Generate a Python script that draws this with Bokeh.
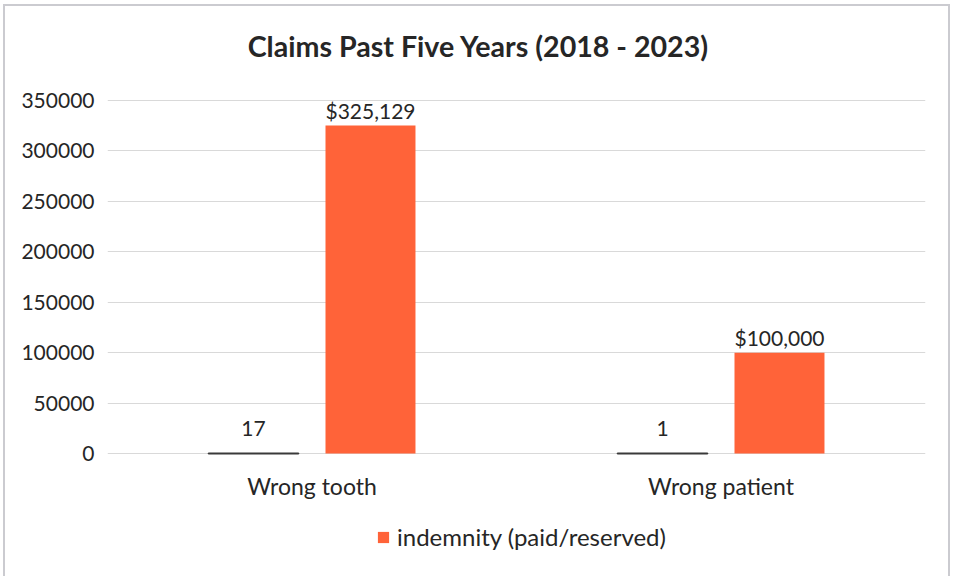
from bokeh.plotting import figure
from bokeh.models import (ColumnDataSource, FactorRange, Range1d, FixedTicker,
                          BasicTickFormatter, LabelSet, Label, Legend, LegendItem)
from bokeh.core.properties import value
from bokeh.transform import dodge
from bokeh.embed import file_html
from bokeh.resources import INLINE

title_text = "Claims Past Five Years (2018 - 2023)"
categories = ["Wrong tooth", "Wrong patient"]
claim_counts = [17, 1]
indemnity = [325129, 100000]
y_ticks = [0, 50000, 100000, 150000, 200000, 250000, 300000, 350000]
indemnity_labels = ["${:,}".format(v) for v in indemnity]
count_labels = [str(v) for v in claim_counts]
zeros = [0 for _ in categories]

FONT = "Lato"
TEXT = "#262626"
ORANGE = "#FF6339"

# layout (canvas pixels)
W, H = 947, 572
LEFT, RIGHT, TOP, BOTTOM = 102, 27, 10, 10
TICK_TOP_PX = 94          # canvas y of the top gridline
ZERO_PX = 447             # canvas y of the zero line
TITLE_PX = (473, 39)      # canvas centre of the title
px_per_unit = (ZERO_PX - TICK_TOP_PX) / y_ticks[-1]
y_min = -(H - BOTTOM - ZERO_PX) / px_per_unit
y_max = (ZERO_PX - TOP) / px_per_unit
cat_px = (W - RIGHT - LEFT) / len(categories)

src = ColumnDataSource(dict(cat=categories, cnt=claim_counts, ind=indemnity,
                            ind_lbl=indemnity_labels, cnt_lbl=count_labels, zero=zeros))

p = figure(x_range=FactorRange(*categories), y_range=Range1d(y_min, y_max),
           width=W, height=H, output_backend="svg", toolbar_location=None,
           x_axis_location=None,
           min_border_left=LEFT, min_border_right=RIGHT, min_border_top=TOP, min_border_bottom=BOTTOM)
p.styles = {"border-left": "2px solid #cbcbd0", "border-right": "2px solid #cbcbd0",
            "border-top": "2px solid #cbcbd0", "margin-left": "3px", "margin-top": "4px"}
p.outline_line_color = None

p.add_layout(Label(x=(TITLE_PX[0] - LEFT) / cat_px, y=(ZERO_PX - TITLE_PX[1]) / px_per_unit,
                   text=title_text, text_align="center", text_baseline="middle",
                   text_font=FONT, text_font_size="28.6px", text_font_style="bold",
                   text_color=TEXT))

count_r = p.vbar(x=dodge("cat", -0.143, range=p.x_range), top="cnt", width=0.22, source=src,
                 fill_color="#3a3a3a", line_color="#3a3a3a", line_width=2)
ind_r = p.vbar(x=dodge("cat", 0.143, range=p.x_range), top="ind", width=0.22, source=src,
               fill_color=ORANGE, line_color=None)

p.add_layout(LabelSet(x=dodge("cat", 0.143, range=p.x_range), y="ind", text="ind_lbl", source=src,
                      text_align="center", text_baseline="middle", y_offset=15,
                      text_font_size="21px", text_color=TEXT, text_font=value(FONT)))
p.add_layout(LabelSet(x=dodge("cat", -0.143, range=p.x_range), y="cnt", text="cnt_lbl", source=src,
                      text_align="center", text_baseline="middle", y_offset=25,
                      text_font_size="21px", text_color=TEXT, text_font=value(FONT)))
p.add_layout(LabelSet(x="cat", y="zero", text="cat", source=src,
                      text_align="center", text_baseline="middle", y_offset=-32,
                      text_font_size="23px", text_color=TEXT, text_font=value(FONT)))

p.yaxis.ticker = FixedTicker(ticks=y_ticks)
p.yaxis.formatter = BasicTickFormatter(use_scientific=False)
ax = p.yaxis[0]
ax.axis_line_color = None
ax.major_tick_line_color = None
ax.minor_tick_line_color = None
ax.major_label_text_font = FONT
ax.major_label_text_font_size = "21px"
ax.major_label_text_color = TEXT
ax.major_label_standoff = 7
p.xgrid.grid_line_color = None
p.ygrid.grid_line_color = "#d9d9d9"
p.ygrid.grid_line_width = 1

legend = Legend(items=[LegendItem(label="indemnity (paid/reserved)", renderers=[ind_r])],
                orientation="horizontal", location=(269, 17), border_line_color=None,
                background_fill_alpha=0,
                label_text_font=FONT, label_text_font_size="24px", label_text_color=TEXT,
                glyph_width=14, glyph_height=14, margin=0, padding=0, label_standoff=7)
p.add_layout(legend)

open("out.html", "w").write(file_html(p, INLINE))
